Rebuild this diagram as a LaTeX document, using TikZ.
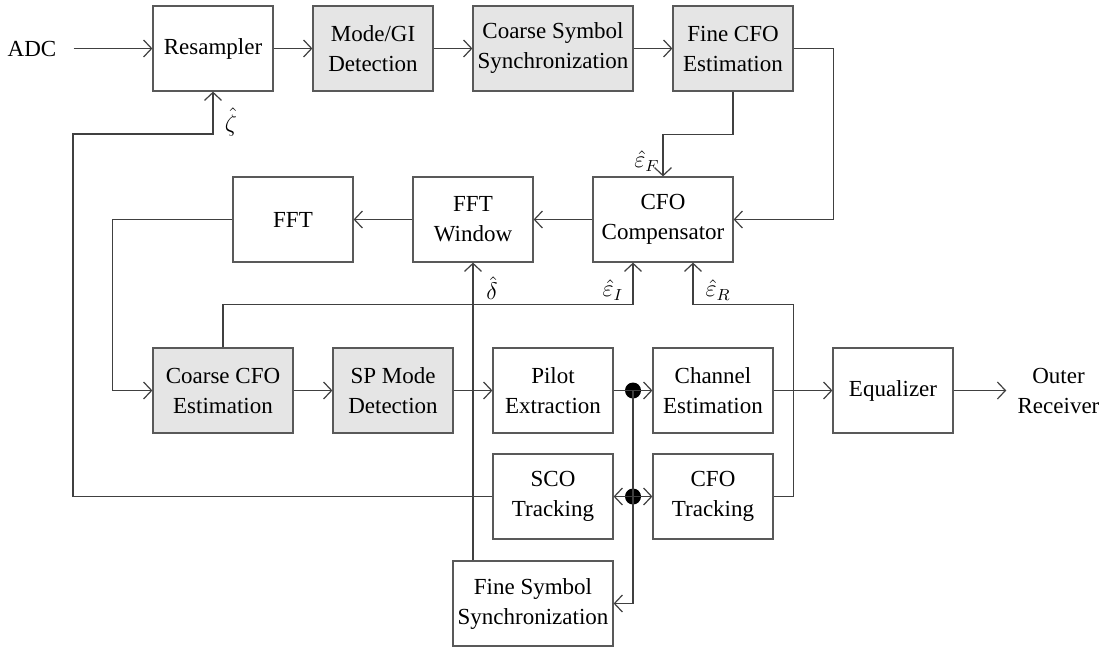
\documentclass[tikz,border=0pt]{standalone}
\usepackage{fontspec}
\setmainfont{Liberation Serif}
\usetikzlibrary{arrows.meta,calc}
\begin{document}
\begin{tikzpicture}[x=0.5pt,y=-0.5pt,
  every node/.style={font=\fontsize{11.5}{15}\selectfont},
  blk/.style={draw=black!65, line width=0.6pt, minimum width=60pt, minimum height=42.5pt, align=center, inner sep=1pt},
  shd/.style={fill=gray!20},
  wide/.style={minimum width=70pt},
  wider/.style={minimum width=80pt},
  lnk/.style={draw=black!75, line width=0.6pt},
  arr/.style={lnk, -{Straight Barb[length=4pt,width=8.5pt,line width=0.6pt]}},
  jdot/.style={circle, fill=black, inner sep=0pt, minimum size=8pt},
  lbl/.style={inner sep=0pt}]
\useasboundingbox (0,0) rectangle (1112,648);
% top row
\node[inner sep=0pt] (adc) at (32,48.5) {ADC};
\node[blk] (res) at (213,48.5) {Resampler};
\node[blk,shd] (mode) at (373,48.5) {Mode/GI\\Detection};
\node[blk,shd,wider] (csync) at (553,48.5) {Coarse Symbol\\Synchronization};
\node[blk,shd] (fcfo) at (733,48.5) {Fine CFO\\Estimation};
% middle row
\node[blk] (fft) at (293,219.5) {FFT};
\node[blk] (fftw) at (473,219.5) {FFT\\Window};
\node[blk,wide] (comp) at (663,219.5) {CFO\\Compensator};
% third row
\node[blk,shd,wide] (ccfo) at (223,390.5) {Coarse CFO\\Estimation};
\node[blk,shd] (spm) at (393,390.5) {SP Mode\\Detection};
\node[blk] (pilot) at (553,390.5) {Pilot\\Extraction};
\node[blk] (chan) at (713,390.5) {Channel\\Estimation};
\node[blk] (eq) at (893,390.5) {Equalizer};
\node[inner sep=0pt, align=center] (outer) at (1058.5,390.5) {Outer\\Receiver};
% fourth row
\node[blk] (sco) at (553,496.5) {SCO\\Tracking};
\node[blk] (cfot) at (713,496.5) {CFO\\Tracking};
% bottom
\node[blk,wider] (fss) at (533,603.5) {Fine Symbol\\Synchronization};
% junctions
\node[jdot] (j1) at (633,390.5) {};
\node[jdot] (j2) at (633,496.5) {};
\coordinate (lb) at (73,134);
% labels
\node[lbl] (lz) at (231,122) {$\hat{\zeta}$};
\node[lbl] (ld) at (492,288) {$\hat{\delta}$};
\node[lbl] (lI) at (613,290) {$\hat{\varepsilon}_I$};
\node[lbl] (lR) at (718,290) {$\hat{\varepsilon}_R$};
\node[lbl] (lF) at (647,161) {$\hat{\varepsilon}_F$};
% connectors: top
\draw[arr] ([xshift=8.5pt]adc.east) -- (res.west);
\draw[arr] (res.east) -- (mode.west);
\draw[arr] (mode.east) -- (csync.west);
\draw[arr] (csync.east) -- (fcfo.west);
\draw[arr] (fcfo.east) -- ++(40,0) |- (comp.east);
\draw[arr] (fcfo.south) -- ++(0,43) -| (comp.north);
% middle
\draw[arr] (comp.west) -- (fftw.east);
\draw[arr] (fftw.west) -- (fft.east);
\draw[arr] (fft.west) -- ++(-120,0) |- (ccfo.west);
\draw[arr] (ccfo.north) -- ++(0,-43) -| ([xshift=-15pt]comp.south);
\draw[arr] (cfot.east) -- ++(20,0) -- ++(0,-192) -| ([xshift=15pt]comp.south);
\draw[arr] (fftw.south |- fss.north) -- (fftw.south);
% third row
\draw[arr] (ccfo.east) -- (spm.west);
\draw[arr] (spm.east) -- (pilot.west);
\draw[lnk] (pilot.east) -- (j1.center);
\draw[arr] (j1.center) -- (chan.west);
\draw[arr] (j1.center) |- (fss.east);
\draw[arr] (j2.center) -- (sco.east);
\draw[arr] (j2.center) -- (cfot.west);
\draw[arr] (chan.east) -- (eq.west);
\draw[arr] (eq.east) -- ([xshift=-5.5pt]outer.west);
% SCO feedback to resampler
\draw[arr] (sco.west) -| (lb) -| (res.south);
\end{tikzpicture}
\end{document}
